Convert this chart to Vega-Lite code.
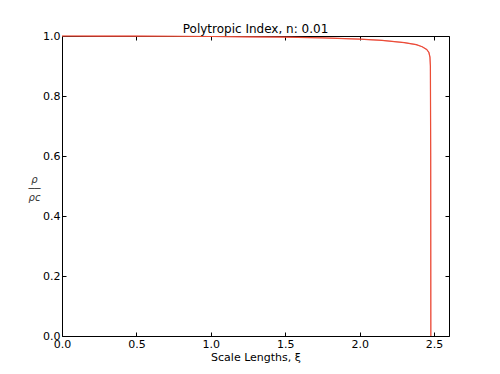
{
  "$schema": "https://vega.github.io/schema/vega-lite/v6.json",
  "autosize": "none",
  "width": 387,
  "height": 300,
  "padding": {"left": 62, "top": 36, "right": 51, "bottom": 38},
  "background": "white",
  "config": {
    "font": "DejaVu Sans",
    "view": {"stroke": "black", "strokeWidth": 1},
    "axis": {"grid": false, "domain": false, "tickColor": "black", "labelColor": "black", "labelFontSize": 11, "titleFontSize": 11, "titleFontWeight": "normal", "titleColor": "black", "tickSize": -4, "labelPadding": 6, "labelFlush": false}
  },
  "title": {"text": "Polytropic Index, n: 0.01", "fontSize": 12, "fontWeight": "normal", "offset": -6, "color": "black"},
  "data": {"values": [
    {"xi": 0.0, "rho": 1.0},
    {"xi": 0.25, "rho": 0.9999},
    {"xi": 0.5, "rho": 0.9996},
    {"xi": 0.75, "rho": 0.9991},
    {"xi": 1.0, "rho": 0.9984},
    {"xi": 1.25, "rho": 0.9973},
    {"xi": 1.5, "rho": 0.9960},
    {"xi": 1.75, "rho": 0.9940},
    {"xi": 2.0, "rho": 0.9895},
    {"xi": 2.15, "rho": 0.9855},
    {"xi": 2.3, "rho": 0.978},
    {"xi": 2.38, "rho": 0.971},
    {"xi": 2.42, "rho": 0.964},
    {"xi": 2.45, "rho": 0.955},
    {"xi": 2.465, "rho": 0.945},
    {"xi": 2.472, "rho": 0.93},
    {"xi": 2.475, "rho": 0.9},
    {"xi": 2.477, "rho": 0.6},
    {"xi": 2.478, "rho": 0.0}
  ]},
  "layer": [
    {
      "mark": {"type": "line", "color": "#e8303a", "strokeWidth": 1.2},
      "encoding": {
        "x": {"field": "xi", "type": "quantitative", "scale": {"domain": [0, 2.6], "nice": false, "zero": false},
              "axis": {"orient": "bottom", "values": [0, 0.5, 1, 1.5, 2, 2.5], "format": ".1f", "title": "Scale Lengths, ξ", "titlePadding": 2}},
        "y": {"field": "rho", "type": "quantitative", "scale": {"domain": [0, 1], "nice": false},
              "axis": {"orient": "left", "values": [0, 0.2, 0.4, 0.6, 0.8, 1], "format": ".1f", "title": ["ρ", "──", "ρc"], "titleAngle": 0, "titleAlign": "center", "titleBaseline": "middle", "titleX": -28, "titleY": 143, "titleFontSize": 10, "titleLineHeight": 9, "titleFontStyle": "italic", "titleColor": "#333"}}
      }
    },
    {
      "mark": {"type": "line", "color": "#f08030", "strokeWidth": 0.6, "opacity": 0.7},
      "encoding": {
        "x": {"field": "xi", "type": "quantitative", "scale": {"domain": [0, 2.6], "nice": false, "zero": false},
              "axis": {"orient": "top", "values": [0, 0.5, 1, 1.5, 2, 2.5], "labels": false, "title": null}},
        "y": {"field": "rho", "type": "quantitative", "scale": {"domain": [0, 1], "nice": false},
              "axis": {"orient": "right", "values": [0, 0.2, 0.4, 0.6, 0.8, 1], "labels": false, "title": null}}
      }
    }
  ],
  "resolve": {"axis": {"x": "independent", "y": "independent"}}
}
